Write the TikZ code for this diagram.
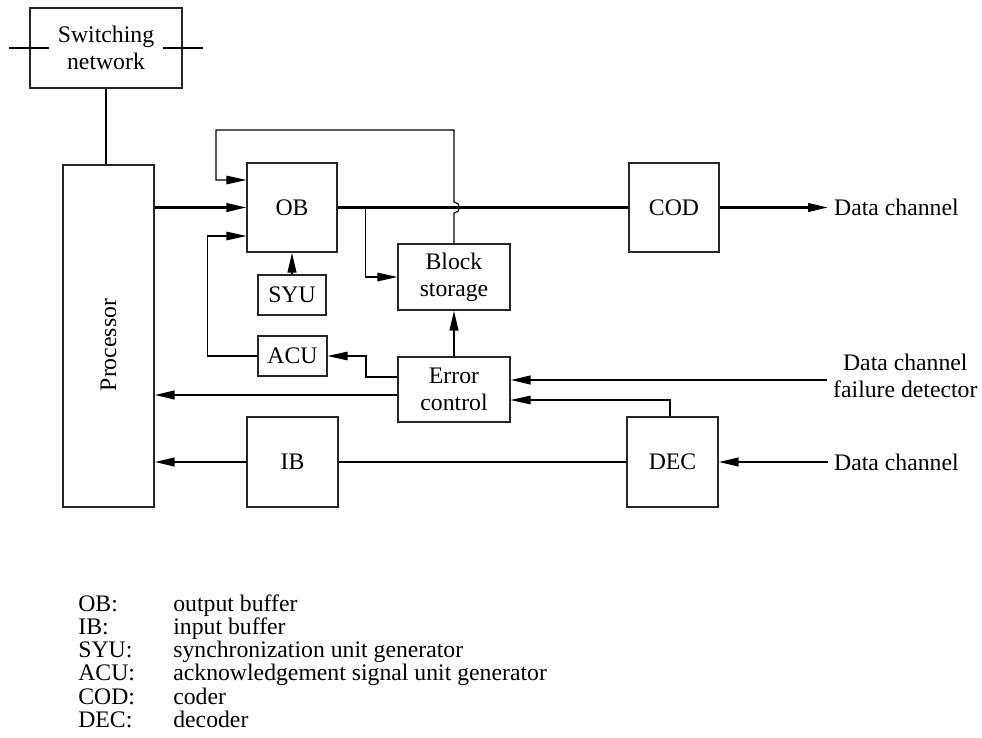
\documentclass[tikz,border=0pt]{standalone}
\usepackage{fontspec}
\setmainfont{Liberation Serif}
\usetikzlibrary{positioning,arrows.meta,calc}

\begin{document}
\begin{tikzpicture}[
  font=\fontsize{13.5}{15.2}\selectfont,
  blk/.style={rectangle, draw=black!85, line width=0.6pt, minimum width=1.8cm, minimum height=1.78cm, align=center, inner sep=1pt},
  sig/.style={line width=1.4pt},
  ctl/.style={line width=0.65pt},
  tip/.style={-{Triangle[length=4mm,width=1.7mm]}},
  lbl/.style={anchor=west, align=center}
]
\useasboundingbox (0,0) rectangle (19.64,-14.74);

% blocks
\node[blk, minimum width=3.04cm, minimum height=1.6cm] (swnet) at (2.12,-0.96) {Switching\\network};
\node[blk, minimum width=1.82cm, minimum height=6.84cm] (proc) at (2.17,-6.72) {\rotatebox{90}{Processor\hspace*{0.36cm}}};
\node[blk] (ob) at (5.84,-4.15) {OB};
\node[blk, minimum width=1.36cm, minimum height=0.8cm] (syu) at (5.84,-5.9) {SYU};
\node[blk, minimum width=1.38cm, minimum height=0.8cm] (acu) at (5.85,-7.12) {ACU};
\node[blk, minimum width=1.82cm, minimum height=1.8cm] (ib) at (5.85,-9.24) {IB};
\node[blk, minimum width=2.24cm, minimum height=1.32cm] (bstore) at (9.08,-5.54) {Block\\storage};
\node[blk, minimum width=2.24cm, minimum height=1.3cm] (ectl) at (9.08,-7.79) {Error\\control};
\node[blk] (cod) at (13.48,-4.15) {COD};
\node[blk, minimum width=1.82cm, minimum height=1.8cm] (dec) at (13.45,-9.24) {DEC};

% outside signals
\node[lbl] (dcout) at (16.56,-4.15) {Data channel};
\node[lbl] (fdet) at (16.54,-7.52) {Data channel\\failure detector};
\node[lbl] (dcin) at (16.56,-9.24) {Data channel};

% switching network
\draw[sig] ([xshift=-0.4cm]swnet.west) -- ([xshift=0.4cm]swnet.west);
\draw[sig] ([xshift=-0.4cm]swnet.east) -- ([xshift=0.4cm]swnet.east);
\draw[sig] (swnet.south) -- (swnet.south |- proc.north);

% output side
\draw[sig,tip] (proc.east |- ob.west) -- (ob.west);
\draw[sig] (ob.east) -- (cod.west);
\draw[sig,tip] (cod.east) -- (dcout.west);
\draw[sig,tip] (syu.north) -- (ob.south);
\draw[ctl,tip] ([xshift=0.56cm]ob.east) |- (bstore.west);
\draw[ctl,tip] (bstore.north) -- ($(bstore.north |- ob.east)+(0,-0.11)$)
  arc[start angle=-90, end angle=90, radius=0.11cm] |- (4.32,-2.6) |- ($(ob.west)+(0,0.55)$);
\draw[ctl,tip] (acu.west) -| ($(ob.west)+(-0.78,-0.57)$) -- ($(ob.west)+(0,-0.57)$);

% error control
\coordinate (ecin1) at ($(ectl.east)+(0,0.19)$);
\coordinate (ecin2) at ($(ectl.east)+(0,-0.21)$);
\coordinate (ecout) at ($(ectl.west)+(0,-0.11)$);
\draw[sig,tip] (ectl.north) -- (bstore.south);
\draw[ctl,tip] ([yshift=0.25cm]ectl.west) -| ($(acu.east)+(0.77,0)$) -- (acu.east);
\draw[sig,tip] (ecout) -- (ecout -| proc.east);
\draw[sig,tip] (fdet.west |- ecin1) -- (ecin1);
\draw[ctl,tip] ([xshift=-0.05cm]dec.north) |- (ecin2);

% input side
\draw[sig,tip] (dcin.west) -- (dec.east);
\draw[sig] (dec.west) -- (ib.east);
\draw[sig,tip] (ib.west) -- (ib.west -| proc.east);

% legend
\node[anchor=base west, inner sep=0, font=\fontsize{13.5}{12.8}\selectfont] (legend) at (1.56,-12.22) {\begin{tabular}[t]{@{}p{1.9cm}@{}l@{}}
OB: & output buffer\\
IB: & input buffer\\
SYU: & synchronization unit generator\\
ACU: & acknowledgement signal unit generator\\
COD: & coder\\
DEC: & decoder
\end{tabular}};
\end{tikzpicture}
\end{document}
